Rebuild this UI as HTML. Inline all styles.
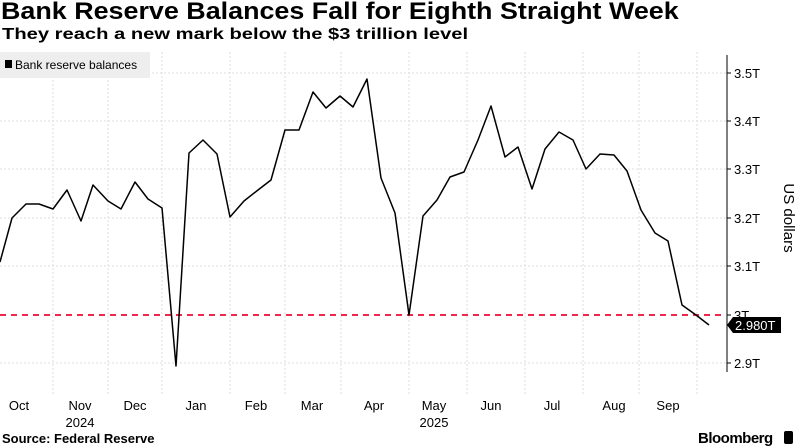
<!DOCTYPE html>
<html><head><meta charset="utf-8"><style>
html,body{margin:0;padding:0;background:#fff;}
body{width:798px;height:446px;overflow:hidden;position:relative;font-family:"Liberation Sans",sans-serif;}
.t{position:absolute;white-space:nowrap;transform-origin:0 0;}
</style></head><body>
<div class="t" style="left:1px;top:-2px;font-size:24px;font-weight:bold;color:#000;transform:scaleX(1.12)">Bank Reserve Balances Fall for Eighth Straight Week</div>
<div class="t" style="left:2px;top:26px;font-size:16px;font-weight:bold;color:#000;transform:scaleX(1.26)">They reach a new mark below the $3 trillion level</div>
<svg width="798" height="446" style="position:absolute;left:0;top:0" xmlns="http://www.w3.org/2000/svg">
<g stroke="#ddd" stroke-width="1" stroke-dasharray="2,2">
<line x1="0" x2="726" y1="73" y2="73"/><line x1="0" x2="726" y1="121" y2="121"/>
<line x1="0" x2="726" y1="169" y2="169"/><line x1="0" x2="726" y1="218" y2="218"/>
<line x1="0" x2="726" y1="266" y2="266"/><line x1="0" x2="726" y1="363" y2="363"/>
<line x1="53" x2="53" y1="52" y2="395"/><line x1="108" x2="108" y1="52" y2="395"/>
<line x1="162" x2="162" y1="52" y2="395"/><line x1="230" x2="230" y1="52" y2="395"/>
<line x1="285" x2="285" y1="52" y2="395"/><line x1="341" x2="341" y1="52" y2="395"/>
<line x1="409" x2="409" y1="52" y2="395"/><line x1="467" x2="467" y1="52" y2="395"/>
<line x1="525" x2="525" y1="52" y2="395"/><line x1="583" x2="583" y1="52" y2="395"/>
<line x1="639" x2="639" y1="52" y2="395"/><line x1="697" x2="697" y1="52" y2="395"/>
</g>
<line x1="727" x2="727" y1="55" y2="372" stroke="#000" stroke-width="1"/>
<g stroke="#000"><line x1="727" x2="731" y1="73" y2="73"/><line x1="727" x2="731" y1="121" y2="121"/><line x1="727" x2="731" y1="169" y2="169"/><line x1="727" x2="731" y1="218" y2="218"/><line x1="727" x2="731" y1="266" y2="266"/><line x1="727" x2="731" y1="315" y2="315"/><line x1="727" x2="731" y1="363" y2="363"/></g>
<line x1="0" x2="726" y1="315" y2="315" stroke="#f0264a" stroke-width="2" stroke-dasharray="6,5"/>
<polyline fill="none" stroke="#000" stroke-width="1.5" stroke-linejoin="round" points="0,262 12,218 26,204 39,204 53,209 67,190 81,221 93,185 108,201 121,209 135,182 148,199 162,208 176,366 189,153 203,140 217,154 230,217 244,201 258,190 271,180 285,130 299,130 313,92 326,108 340,96 353,107 367,79 381,178 395,213 409,315 423,216 437,200 450,177 464,172 478,140 491,106 505,157 518,147 532,189 545,149 559,132 573,140 586,169 600,154 614,155 627,171 641,210 655,233 668,241 682,305 696,315 709,325"/>
<g font-family="Liberation Sans,sans-serif" font-size="13" fill="#000">
<text x="734" y="78">3.5T</text><text x="734" y="126">3.4T</text><text x="734" y="174">3.3T</text><text x="734" y="223">3.2T</text><text x="734" y="271">3.1T</text><text x="734" y="320">3T</text><text x="734" y="368">2.9T</text>
</g>
<polygon points="727,325 733,317 781,317 781,333 733,333" fill="#000"/>
<text x="735" y="330" font-size="13" fill="#fff" font-family="Liberation Sans,sans-serif">2.980T</text>
<text transform="translate(784,218) rotate(90)" text-anchor="middle" font-size="15" fill="#000" font-family="Liberation Sans,sans-serif">US dollars</text>
<rect x="0" y="52" width="150" height="26" fill="#eee"/>
<rect x="5" y="60" width="7" height="8" fill="#000"/>
<text x="15" y="69" font-size="12" fill="#000" font-family="Liberation Sans,sans-serif">Bank reserve balances</text>
<g font-family="Liberation Sans,sans-serif" font-size="13" fill="#000" text-anchor="middle">
<text x="19" y="410">Oct</text><text x="80" y="410">Nov</text><text x="135" y="410">Dec</text><text x="196" y="410">Jan</text><text x="256" y="410">Feb</text><text x="312" y="410">Mar</text><text x="374" y="410">Apr</text><text x="434" y="410">May</text><text x="491" y="410">Jun</text><text x="552" y="410">Jul</text><text x="614" y="410">Aug</text><text x="668" y="410">Sep</text>
<text x="80" y="427">2024</text><text x="434" y="427">2025</text>
</g>
<text x="2" y="443" font-size="13" font-weight="bold" fill="#000" font-family="Liberation Sans,sans-serif">Source: Federal Reserve</text>
<text x="698" y="443" font-size="15" font-weight="bold" fill="#000" font-family="Liberation Sans,sans-serif" letter-spacing="-0.5">Bloomberg</text>
<rect x="784" y="431" width="9" height="13" rx="2" fill="#000"/>
</svg>
</body></html>
